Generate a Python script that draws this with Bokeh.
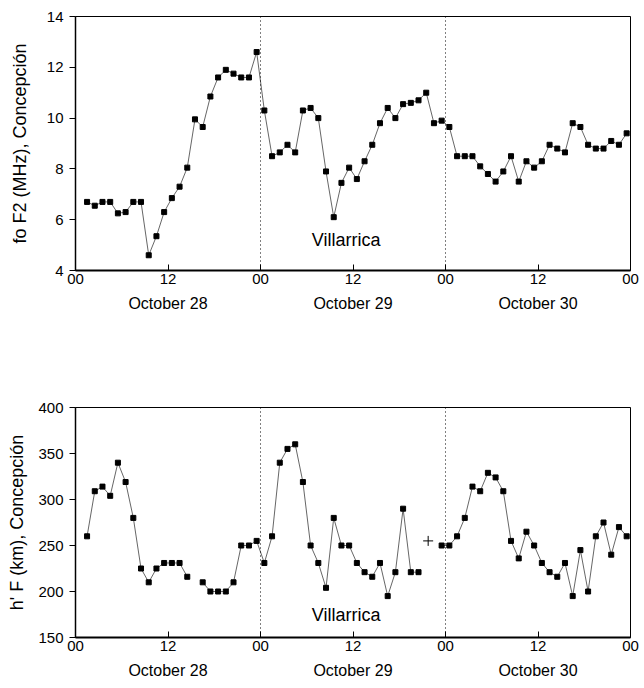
from bokeh.plotting import figure
from bokeh.models import Range1d, FixedTicker, LinearAxis, Span, Label
from bokeh.layouts import column
from bokeh.embed import file_html
from bokeh.resources import INLINE

nan = float("nan")

# Hours (UT) since 00 of October 28
hours = [1.5, 2.5, 3.5, 4.5, 5.5, 6.5, 7.5, 8.5, 9.5, 10.5, 11.5, 12.5, 13.5, 14.5, 15.5,
         16.5, 17.5, 18.5, 19.5, 20.5, 21.5, 22.5, 23.5,
         24.5, 25.5, 26.5, 27.5, 28.5, 29.5, 30.5, 31.5, 32.5, 33.5, 34.5, 35.5, 36.5,
         37.5, 38.5, 39.5, 40.5, 41.5, 42.5, 43.5, 44.5, 45.5, 46.5, 47.5,
         48.5, 49.5, 50.5, 51.5, 52.5, 53.5, 54.5, 55.5, 56.5, 57.5, 58.5, 59.5, 60.5,
         61.5, 62.5, 63.5, 64.5, 65.5, 66.5, 67.5, 68.5, 69.5, 70.5, 71.5]

fof2 = [6.7, 6.55, 6.7, 6.7, 6.25, 6.3, 6.7, 6.7, 4.6, 5.35, 6.3, 6.85, 7.3, 8.05, 9.95,
        9.65, 10.85, 11.6, 11.9, 11.75, 11.6, 11.6, 12.6,
        10.3, 8.5, 8.65, 8.95, 8.65, 10.3, 10.4, 10.0, 7.9, 6.1, 7.45, 8.05, 7.6,
        8.3, 8.95, 9.8, 10.4, 10.0, 10.55, 10.6, 10.7, 11.0, 9.8, 9.9,
        9.65, 8.5, 8.5, 8.5, 8.1, 7.8, 7.5, 7.9, 8.5, 7.5, 8.3, 8.05, 8.3,
        8.95, 8.8, 8.65, 9.8, 9.65, 8.95, 8.8, 8.8, 9.1, 8.95, 9.4]

hpf = [260, 309, 314, 304, 340, 319, 280, 225, 210, 225, 231, 231, 231, 216, nan,
       210, 200, 200, 200, 210, 250, 250, 255,
       231, 260, 340, 355, 360, 319, 250, 231, 204, 280, 250, 250, 231,
       221, 216, 231, 195, 221, 290, 221, 221, nan, nan, 250,
       250, 260, 280, 314, 309, 329, 324, 309, 255, 236, 265, 250, 231,
       221, 216, 231, 195, 245, 200, 260, 275, 240, 270, 260]

cross_hour = [45.75]
cross_hpf = [255]

x_ticks = [0, 12, 24, 36, 48, 60, 72]
x_tick_labels = ["00", "12", "00", "12", "00", "12", "00"]
day_ticks = [12, 36, 60]
day_labels = ["October 28", "October 29", "October 30"]
day_bounds = [24, 48, 72]

FONT = "Liberation Sans"


def make_panel(height, borders, y_range, y_ticks, ylabel, label_standoff, villa_y):
    left, right, top, bottom = borders
    p = figure(width=644, height=height, x_range=Range1d(0, 72), y_range=Range1d(*y_range),
               output_backend="svg", toolbar_location=None,
               min_border_left=left, min_border_right=right,
               min_border_top=top, min_border_bottom=bottom)
    p.background_fill_color = "white"
    p.border_fill_color = "white"
    p.outline_line_color = "black"
    p.outline_line_width = 1
    p.xgrid.visible = False
    p.ygrid.visible = False

    xa = p.xaxis[0]
    xa.ticker = FixedTicker(ticks=x_ticks)
    xa.major_label_overrides = {t: s for t, s in zip(x_ticks, x_tick_labels)}
    xa.major_tick_in = 6
    xa.major_tick_out = 0
    xa.minor_tick_line_color = None
    xa.axis_line_width = 2
    xa.major_label_text_font = FONT
    xa.major_label_text_font_size = "15px"
    xa.major_label_text_color = "black"
    xa.major_label_standoff = 3

    ya = p.yaxis[0]
    ya.ticker = FixedTicker(ticks=y_ticks)
    ya.major_tick_in = 0
    ya.major_tick_out = 6
    ya.minor_tick_line_color = None
    ya.axis_line_width = 1.5
    ya.major_label_text_font = FONT
    ya.major_label_text_font_size = "15px"
    ya.major_label_text_color = "black"
    ya.major_label_standoff = 6
    ya.axis_label = ylabel
    ya.axis_label_text_font = FONT
    ya.axis_label_text_font_size = "18px"
    ya.axis_label_text_font_style = "normal"
    ya.axis_label_text_color = "black"
    ya.axis_label_standoff = label_standoff

    dax = LinearAxis(ticker=FixedTicker(ticks=day_ticks),
                     major_label_overrides={t: s for t, s in zip(day_ticks, day_labels)},
                     axis_line_color=None, major_tick_line_color=None,
                     minor_tick_line_color=None, major_label_standoff=2,
                     major_label_text_font=FONT, major_label_text_font_size="16px",
                     major_label_text_color="black")
    p.add_layout(dax, "below")

    for b in day_bounds:
        p.add_layout(Span(location=b, dimension="height", line_color="black",
                          line_width=1, line_dash="1 3"))

    p.add_layout(Label(x=35.1, y=villa_y, text="Villarrica", text_align="center",
                       text_baseline="middle", text_font=FONT, text_font_size="18px",
                       text_color="black"))
    return p


p1 = make_panel(345, (74, 14, 16, 75), (4, 14), [4, 6, 8, 10, 12, 14],
                "fo F2 (MHz), Concepción", 14, 5.22)
p1.line(hours, fof2, line_color="#555555", line_width=0.9)
p1.scatter(hours, fof2, marker="square", size=5, fill_color="black", line_color="black")

p2 = make_panel(343, (75, 9, 62, 51), (150, 400), [150, 200, 250, 300, 350, 400],
                "h' F (km), Concepción", 8, 175)
p2.line(hours, hpf, line_color="#555555", line_width=0.9)
p2.scatter(hours, hpf, marker="square", size=5, fill_color="black", line_color="black")
p2.scatter(cross_hour, cross_hpf, marker="cross", size=10, line_color="black", line_width=1)

layout = column(p1, p2, spacing=0)
open("out.html", "w").write(file_html(layout, INLINE))
